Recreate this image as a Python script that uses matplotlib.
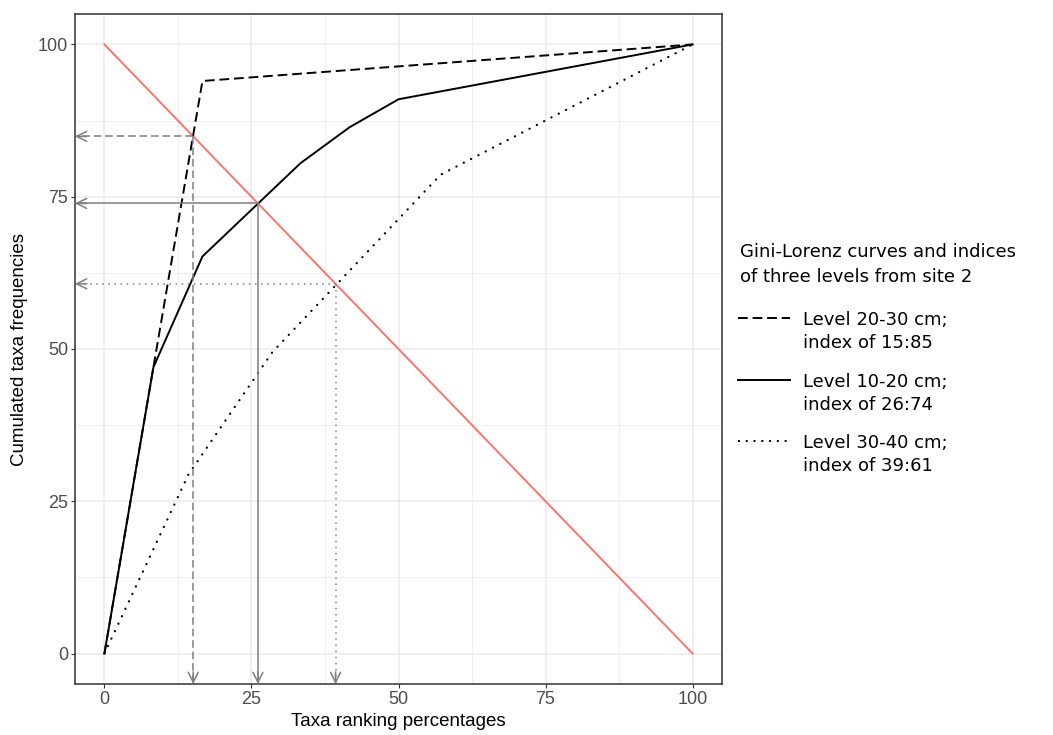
import matplotlib
matplotlib.use("Agg")
import matplotlib.pyplot as plt
from matplotlib import font_manager
from matplotlib.lines import Line2D

# Lorenz curves: taxa ranking % (x) vs cumulated taxa frequencies % (y)
x_20_30 = [0, 8.33, 16.67, 100]
y_20_30 = [0, 47, 94, 100]
x_10_20 = [0, 8.33, 16.67, 33.33, 41.67, 50, 100]
y_10_20 = [0, 47, 65.2, 80.5, 86.4, 91, 100]
x_30_40 = [0, 14.29, 28.57, 57.14, 100]
y_30_40 = [0, 29.4, 49.5, 78.6, 100]

# Gini-Lorenz indices = crossing with the diagonal
idx_x = [15.1, 26.1, 39.3]
idx_y = [84.9, 73.9, 60.7]

legend_title = ["Gini-Lorenz curves and indices", "of three levels from site 2"]
legend_labels = [["Level 20-30 cm;", "index of 15:85"],
                 ["Level 10-20 cm;", "index of 26:74"],
                 ["Level 30-40 cm;", "index of 39:61"]]

ticks = [0, 25, 50, 75, 100]

names = {f.name for f in font_manager.fontManager.ttflist}
tick_font = "Liberation Sans Narrow" if "Liberation Sans Narrow" in names else "Liberation Sans"

DASHED = (0, (5, 2.5))
DOTTED = (0, (1, 3))
ROUND_DOTS = (0, (0.1, 3.6))
styles = [DASHED, "-", DOTTED]
GRAY = "#7f7f7f"


def main():
    fig = plt.figure(figsize=(10.53, 7.35), dpi=100)
    ax = fig.add_axes([75 / 1053, 1 - 684 / 735, 647 / 1053, 670 / 735])

    ax.set_xlim(-5, 105)
    ax.set_ylim(-5, 105)
    ax.set_xticks(ticks)
    ax.set_yticks(ticks)
    ax.set_xticks([12.5, 37.5, 62.5, 87.5], minor=True)
    ax.set_yticks([12.5, 37.5, 62.5, 87.5], minor=True)
    ax.grid(which="major", color="#ebebeb", lw=1.1, zorder=0)
    ax.grid(which="minor", color="#ebebeb", lw=0.55, zorder=0)
    ax.set_axisbelow(True)
    ax.tick_params(which="minor", length=0)
    ax.tick_params(which="major", length=3.2, width=0.8, color="#333333",
                   labelcolor="#4d4d4d", labelsize=13, pad=1.8)
    for lab in ax.get_xticklabels() + ax.get_yticklabels():
        lab.set_family(tick_font)
    for sp in ax.spines.values():
        sp.set_color("#333333")
        sp.set_linewidth(1.1)

    # curves
    ax.plot(x_20_30, y_20_30, color="black", lw=1.4, ls=DASHED, zorder=3)
    ax.plot(x_10_20, y_10_20, color="black", lw=1.4, ls="-", zorder=3)
    ax.plot(x_30_40, y_30_40, color="black", lw=1.6, ls=ROUND_DOTS,
            dash_capstyle="round", zorder=3)

    # diagonal
    ax.plot([0, 100], [100, 0], color="#F8766D", lw=1.4, zorder=2)

    # index arrows to the axes
    for xi, yi, st in zip(idx_x, idx_y, styles):
        ax.plot([xi, -5], [yi, yi], color=GRAY, lw=1.1, ls=st, zorder=4)
        ax.plot([xi, xi], [yi, -5], color=GRAY, lw=1.1, ls=st, zorder=4)
        for tip, tail in [((-5, yi), (-3, yi)), ((xi, -5), (xi, -3))]:
            ax.annotate("", xy=tip, xytext=tail,
                        arrowprops=dict(arrowstyle="->", color=GRAY, lw=1.1,
                                        mutation_scale=18, shrinkA=0, shrinkB=0),
                        annotation_clip=False, zorder=4)

    ax.set_xlabel("Taxa ranking percentages", family="Liberation Sans",
                  fontsize=13.5, labelpad=4)
    fig.text(20 / 1053, 1 - 349 / 735, "Cumulated taxa frequencies",
             family="Liberation Sans", fontsize=13.5, rotation=90,
             ha="center", va="center")

    # legend drawn by hand so the keys sit on the first label line
    W, H = 1053, 735
    fig.text(740 / W, 1 - 257 / H, legend_title[0], fontsize=13, va="baseline")
    fig.text(740 / W, 1 - 282 / H, legend_title[1], fontsize=13, va="baseline")
    for i, (lines, st) in enumerate(zip(legend_labels, styles)):
        base = 325 + i * 61.5
        fig.add_artist(Line2D([738 / W, 790 / W], [1 - (base - 7) / H] * 2,
                              color="black", lw=1.4, ls=st))
        fig.text(803 / W, 1 - base / H, lines[0], fontsize=13, va="baseline")
        fig.text(803 / W, 1 - (base + 23) / H, lines[1], fontsize=13, va="baseline")

    fig.savefig("out.png", dpi=100)


if __name__ == "__main__":
    main()
